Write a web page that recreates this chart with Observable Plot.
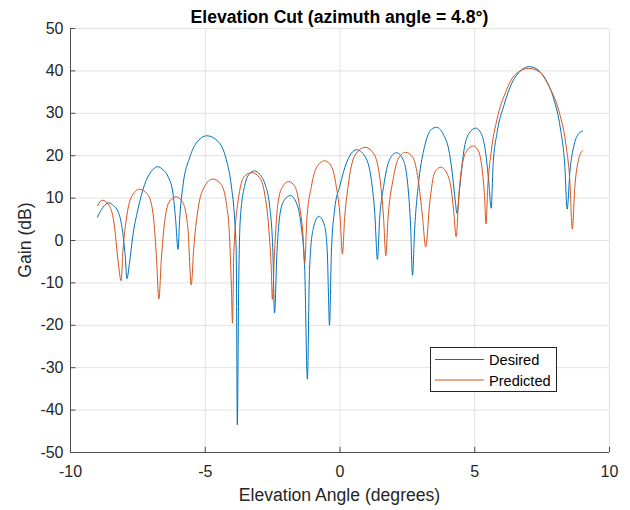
<!DOCTYPE html>
<html>
<head>
<meta charset="utf-8">
<script src="https://cdn.jsdelivr.net/npm/d3@7"></script>
<script src="https://cdn.jsdelivr.net/npm/@observablehq/plot@0.6"></script>
<style>
  html, body { margin: 0; padding: 0; background: #fff; }
  #chart { position: relative; width: 630px; height: 510px; }
</style>
</head>
<body>
<div id="chart"></div>
<script>
const titleText = "Elevation Cut (azimuth angle = 4.8°)";
const xLabel = "Elevation Angle (degrees)";
const yLabel = "Gain (dB)";
const seriesNames = ["Desired", "Predicted"];
const xTicks = [-10, -5, 0, 5, 10];
const yTicks = [-50, -40, -30, -20, -10, 0, 10, 20, 30, 40, 50];

const desiredX = [-9.0, -8.8, -8.58, -8.4, -8.24, -8.06, -7.96, -7.91, -7.81, -7.69, -7.5, -7.25, -7.0, -6.78, -6.55, -6.39, -6.2, -6.1, -6.01,
  -5.95, -5.83, -5.58, -5.33, -4.94, -4.53, -4.22, -4.03, -3.91, -3.85, -3.81, -3.76, -3.7, -3.54, -3.35, -3.17, -2.98, -2.8, -2.61, -2.49, -2.43,
  -2.34, -2.22, -2.05, -1.84, -1.62, -1.44, -1.31, -1.21, -1.13, -1.0, -0.78, -0.57, -0.47, -0.43, -0.39,
  -0.32, -0.2, -0.01, 0.24, 0.61, 0.92, 1.16, 1.29, 1.39, 1.47, 1.62, 1.84, 2.09, 2.34, 2.52, 2.62, 2.69,
  2.77, 2.93, 3.14, 3.39, 3.58, 3.85, 4.03, 4.16, 4.28, 4.34, 4.44, 4.59, 4.78, 5.04, 5.27, 5.4, 5.52, 5.61,
  5.68, 5.83, 6.08, 6.39, 6.7, 7.0, 7.31, 7.62, 7.93, 8.18, 8.34, 8.43, 8.53, 8.68, 8.86, 9.0];
const desiredY = [5.5, 7.8, 8.9, 8.2, 6.9, 1.8, -4.5, -9.0, -5.3, 1.0, 7.3, 13.2, 16.3, 17.4, 16.6, 15.2, 11.2, 5.0, -2.1,
  5.0, 12.8, 19.5, 23.0, 24.7, 23.4, 19.1, 12.8, 5.0, -2.9, -43.5, -10.8, 5.0, 12.8, 15.8, 16.4, 15.6, 13.6, 8.1, -2.9, -17.1,
  -2.9, 6.5, 9.7, 10.6, 8.9, 3.4, -6.8, -32.7, -6.8, 2.6, 5.7, 3.4, -2.9, -12.3, -20.0,
  -2.9, 7.3, 12.8, 18.3, 21.4, 19.9, 14.4, 6.5, -4.5, 5.0, 12.8, 19.1, 20.7, 19.1, 12.8, 3.4, -8.2,
  2.6, 14.4, 22.2, 26.2, 26.7, 24.8, 21.6, 16.2, 9.1, 6.4, 12.3, 20.9, 25.2, 26.5, 24.8, 20.9, 13.8, 7.6,
  17.7, 25.5, 31.8, 37.3, 40.0, 41.0, 40.4, 38.0, 33.4, 26.3, 17.7, 7.4, 16.2, 22.4, 25.2, 25.8];

const predictedX = [-9.0, -8.82, -8.55, -8.37, -8.24, -8.12, -8.06, -7.93, -7.75, -7.44, -7.13, -6.94, -6.82, -6.72,
  -6.63, -6.51, -6.32, -6.08, -5.83, -5.64, -5.52, -5.43, -5.27, -5.02, -4.72, -4.41, -4.22, -4.1, -4.03, -3.99,
  -3.94, -3.79, -3.54, -3.27, -2.98, -2.8, -2.64, -2.55, -2.51, -2.43, -2.3, -2.12, -1.91, -1.68, -1.5, -1.37, -1.31,
  -1.23, -1.06, -0.88, -0.57, -0.32, -0.14, 0.01, 0.09, 0.17, 0.3, 0.54, 0.93, 1.23, 1.47, 1.62, 1.7,
  1.78, 1.97, 2.15, 2.43, 2.71, 2.9, 3.06, 3.18, 3.33, 3.51, 3.74, 3.97, 4.12, 4.22, 4.31,
  4.41, 4.53, 4.72, 4.95, 5.15, 5.27, 5.36, 5.42, 5.48, 5.61, 5.83, 6.14, 6.51, 7.0, 7.44, 7.81, 8.12, 8.37, 8.53, 8.62,
  8.71, 8.86, 9.0];
const predictedY = [8.2, 9.5, 8.1, 3.4, -4.5, -9.5, -2.9, 5.0, 10.1, 12.1, 10.8, 6.5, -2.9, -13.8,
  -4.5, 4.2, 9.3, 10.3, 8.9, 2.6, -10.5, -2.1, 7.3, 12.8, 14.5, 13.2, 8.9, 1.0, -10.8, -19.5,
  -2.9, 8.9, 15.2, 16.0, 14.8, 11.2, 2.6, -6.8, -13.9, -2.9, 8.9, 12.8, 13.9, 12.8, 8.1, 1.0, -5.4,
  5.0, 12.8, 17.1, 18.8, 17.5, 12.8, 5.0, -3.2, 5.0, 12.8, 19.9, 22.0, 20.7, 15.2, 5.0, -3.6,
  5.0, 14.4, 19.1, 20.8, 19.5, 14.4, 5.7, -1.5, 8.9, 16.0, 17.3, 15.8, 12.3, 6.8, 0.9,
  10.7, 17.7, 21.3, 22.3, 20.9, 17.0, 10.7, 3.9, 12.3, 20.9, 28.7, 34.9, 39.2, 40.6, 39.6, 35.7, 30.6, 23.2, 13.8, 2.7,
  12.3, 19.3, 21.2];

const colors = ["#0072BD", "#D95319"];
const desired = desiredX.map((x, i) => ({x, y: desiredY[i]}));
const predicted = predictedX.map((x, i) => ({x, y: predictedY[i]}));

const font = "'Liberation Sans', Arial, Helvetica, sans-serif";
const gridColor = "#e2e2e2";
const axisColor = "#4d4d4d";
const textColor = "#262626";

const plot = Plot.plot({
  width: 630,
  height: 510,
  marginLeft: 70,
  marginRight: 21,
  marginTop: 28,
  marginBottom: 58,
  style: {fontFamily: font, background: "#fff", color: textColor},
  x: {domain: [-10, 10]},
  y: {domain: [-50, 50]},
  marks: [
    Plot.ruleX(xTicks, {stroke: gridColor, strokeWidth: 1}),
    Plot.ruleY(yTicks, {stroke: gridColor, strokeWidth: 1}),
    Plot.line(desired, {x: "x", y: "y", stroke: colors[0], strokeWidth: 1, curve: "monotone-x"}),
    Plot.line(predicted, {x: "x", y: "y", stroke: colors[1], strokeWidth: 1, curve: "monotone-x"}),
    Plot.ruleX([-10], {stroke: axisColor, strokeWidth: 1}),
    Plot.ruleY([-50], {stroke: axisColor, strokeWidth: 1}),
    Plot.ruleY(yTicks, {x1: -10, x2: -9.8, stroke: axisColor, strokeWidth: 1}),
    Plot.ruleX(xTicks, {y1: -50, y2: -48.8, stroke: axisColor, strokeWidth: 1}),
    Plot.axisX({ticks: xTicks, tickSize: 0, tickPadding: 13, fontSize: 16, label: null, tickFormat: d => String(d)}),
    Plot.axisY({ticks: yTicks, tickSize: 0, tickPadding: 7, fontSize: 16, label: null, tickFormat: d => String(d)})
  ]
});

document.getElementById("chart").appendChild(plot);

const svg = d3.select(plot);
svg.append("text")
  .attr("x", 339.5).attr("y", 22.7)
  .attr("text-anchor", "middle")
  .attr("font-family", font).attr("font-size", 17.6).attr("font-weight", "bold")
  .attr("fill", "#000")
  .text(titleText);
svg.append("text")
  .attr("x", 339.5).attr("y", 500.5)
  .attr("text-anchor", "middle")
  .attr("font-family", font).attr("font-size", 17.6)
  .attr("fill", textColor)
  .text(xLabel);
svg.append("text")
  .attr("transform", "translate(31,240) rotate(-90)")
  .attr("text-anchor", "middle")
  .attr("font-family", font).attr("font-size", 17.6)
  .attr("fill", textColor)
  .text(yLabel);

const lg = svg.append("g");
lg.append("rect").attr("x", 430.5).attr("y", 347.5).attr("width", 126).attr("height", 44)
  .attr("fill", "#fff").attr("stroke", textColor).attr("stroke-width", 1);
seriesNames.forEach((name, i) => {
  const cy = 359.5 + i * 20.5;
  lg.append("line").attr("x1", 435).attr("x2", 484).attr("y1", cy).attr("y2", cy)
    .attr("stroke", colors[i]).attr("stroke-width", 1);
  lg.append("text").attr("x", 489).attr("y", cy + 5.6)
    .attr("text-anchor", "start")
    .attr("font-family", font).attr("font-size", 14.6).attr("fill", "#000")
    .text(name);
});
</script>
</body>
</html>
